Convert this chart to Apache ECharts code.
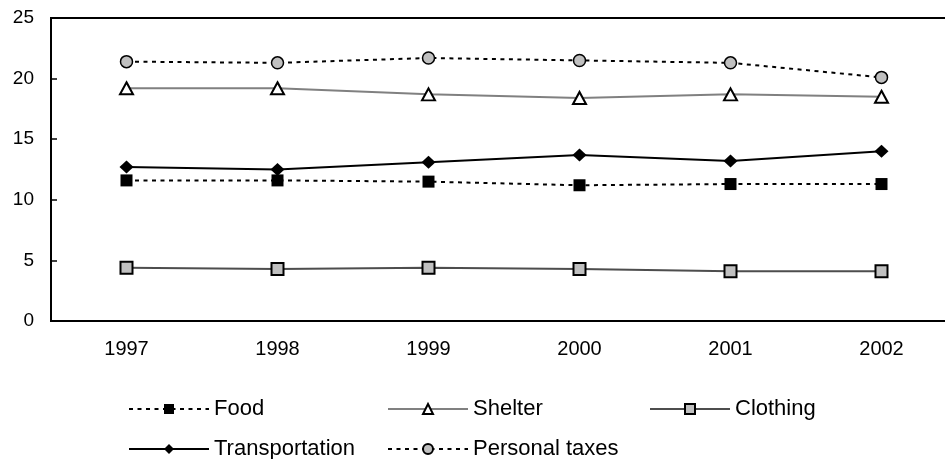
<!DOCTYPE html>
<html>
<head>
<meta charset="utf-8">
<script src="https://cdn.jsdelivr.net/npm/echarts@6/dist/echarts.min.js"></script>
<style>html,body{margin:0;padding:0;background:#fff;}#c{width:945px;height:459px;}</style>
</head>
<body>
<div id="c"></div>
<script>
var years = ['1997', '1998', '1999', '2000', '2001', '2002'];
var yTicks = [0, 5, 10, 15, 20, 25];
var food = [11.6, 11.6, 11.5, 11.2, 11.3, 11.3];
var shelter = [19.2, 19.2, 18.7, 18.4, 18.7, 18.5];
var clothing = [4.4, 4.3, 4.4, 4.3, 4.1, 4.1];
var transportation = [12.7, 12.5, 13.1, 13.7, 13.2, 14.0];
var personalTaxes = [21.4, 21.3, 21.7, 21.5, 21.3, 20.1];

var FONT = '"Liberation Sans", Arial, sans-serif';
var chart = echarts.init(document.getElementById('c'), null, {renderer: 'canvas'});

function legend(name, left, top) {
  return {
    data: [name], left: left, top: top, padding: 0,
    itemWidth: 80, itemHeight: 12.5,
    textStyle: {fontFamily: FONT, fontSize: 22, color: '#000'},
    selectedMode: false
  };
}

chart.setOption({
  animation: false,
  backgroundColor: '#fff',
  grid: {left: 51, width: 906, top: 18, height: 303, outerBoundsMode: 'none', containLabel: false,
         show: true, borderColor: '#000', borderWidth: 2, backgroundColor: 'transparent'},
  xAxis: {
    type: 'category', data: years, boundaryGap: true,
    axisLine: {lineStyle: {color: '#000', width: 2}},
    axisTick: {inside: true, length: 6, lineStyle: {color: '#000', width: 1.5}},
    axisLabel: {fontFamily: FONT, fontSize: 20, color: '#000', margin: 18},
    splitLine: {show: false}
  },
  yAxis: {
    type: 'value', min: yTicks[0], max: yTicks[yTicks.length - 1], interval: 5,
    axisLine: {show: true, lineStyle: {color: '#000', width: 2}},
    axisTick: {show: true, inside: true, length: 6, lineStyle: {color: '#000', width: 1.5}},
    axisLabel: {fontFamily: FONT, fontSize: 19, color: '#000', margin: 17},
    splitLine: {show: false}
  },
  legend: [
    legend('Food', 128, 398),
    legend('Shelter', 387, 398),
    legend('Clothing', 649, 398),
    legend('Transportation', 128, 438),
    legend('Personal taxes', 387, 438)
  ],
  series: [
    {name: 'Food', type: 'line', data: food, symbol: 'rect', symbolSize: 12,
     itemStyle: {color: '#000'}, lineStyle: {color: '#000', width: 2, type: [4, 4.5]}},
    {name: 'Shelter', type: 'line', data: shelter, symbol: 'triangle', symbolSize: [13, 12],
     itemStyle: {color: '#fff', borderColor: '#000', borderWidth: 2}, lineStyle: {color: '#808080', width: 2}},
    {name: 'Clothing', type: 'line', data: clothing, symbol: 'rect', symbolSize: 12,
     itemStyle: {color: '#c0c0c0', borderColor: '#000', borderWidth: 2}, lineStyle: {color: '#4d4d4d', width: 2}},
    {name: 'Transportation', type: 'line', data: transportation, symbol: 'diamond', symbolSize: [14, 13],
     itemStyle: {color: '#000'}, lineStyle: {color: '#000', width: 2}},
    {name: 'Personal taxes', type: 'line', data: personalTaxes, symbol: 'circle', symbolSize: 12,
     itemStyle: {color: '#c0c0c0', borderColor: '#000', borderWidth: 1.5}, lineStyle: {color: '#000', width: 2, type: [4, 4.5]}}
  ]
});
</script>
</body>
</html>
